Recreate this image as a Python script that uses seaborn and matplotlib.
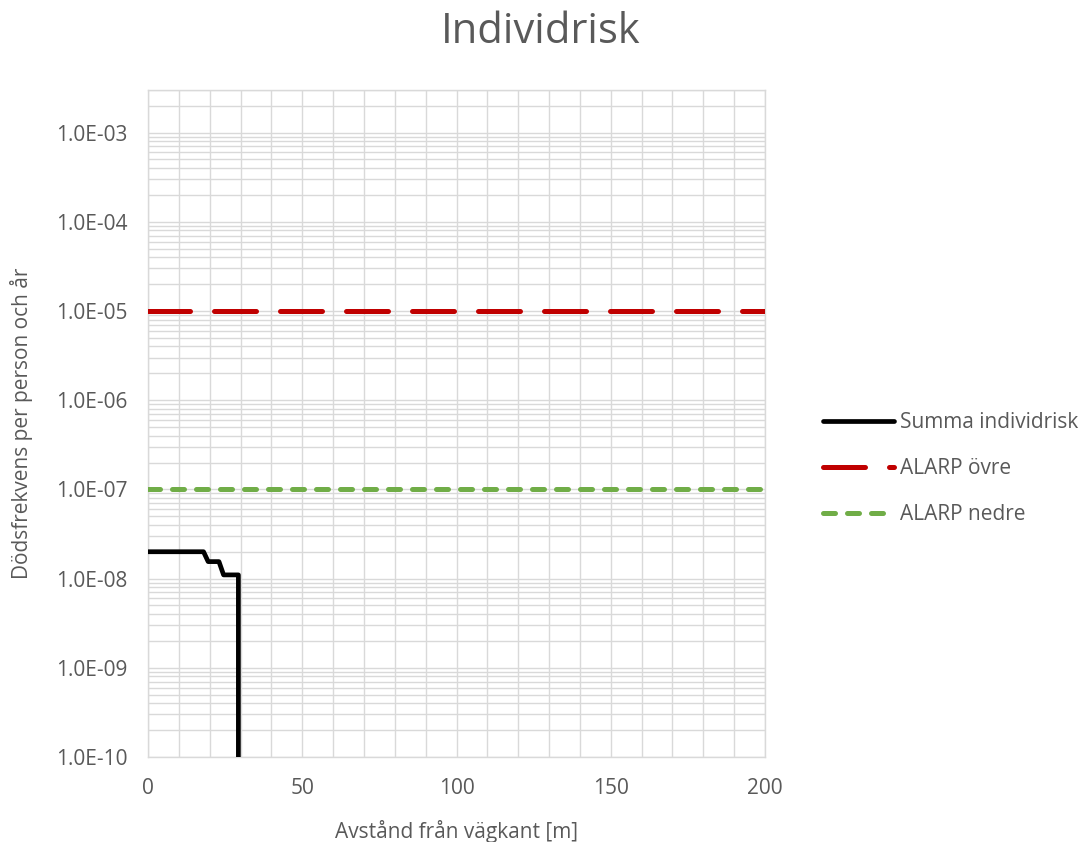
import numpy as np
import pandas as pd
import matplotlib
matplotlib.use("Agg")
from matplotlib import pyplot as plt
from matplotlib.ticker import FixedLocator, MultipleLocator, FuncFormatter
import seaborn as sns

# data
avstand = [0, 18, 19.5, 23, 24.5, 29.3, 29.3]
summa_individrisk = [2.0e-8, 2.0e-8, 1.55e-8, 1.55e-8, 1.1e-8, 1.1e-8, 1e-12]
alarp_x = [0, 200]
alarp_ovre = [1e-5, 1e-5]
alarp_nedre = [1e-7, 1e-7]
ytick_vals = [1e-10, 1e-9, 1e-8, 1e-7, 1e-6, 1e-5, 1e-4, 1e-3]

sns.set_theme(style="white")
plt.rcParams['font.family'] = ['Open Sans', 'DejaVu Sans']
grey_txt = '#595959'
grid_c = '#d9d9d9'

fig = plt.figure(figsize=(10.82, 8.42), dpi=100)
ax = fig.add_axes([148/1082, 1-757/842, (765-148)/1082, (757-90)/842])
ax.set_yscale('log')

sns.lineplot(x=avstand, y=summa_individrisk, ax=ax, color='black', lw=3.4,
             estimator=None, sort=False, label='Summa individrisk', zorder=3)
sns.lineplot(x=alarp_x, y=alarp_ovre, ax=ax, color='#C00000', lw=3.6,
             estimator=None, linestyle=(0, (8.4, 4.8)), dash_capstyle='round',
             label='ALARP övre', zorder=3)
sns.lineplot(x=alarp_x, y=alarp_nedre, ax=ax, color='#70AD47', lw=3.6,
             estimator=None, linestyle=(0, (2.4, 2.4)), dash_capstyle='round',
             label='ALARP nedre', zorder=3)

ax.set_xlim(0, 200)
ax.set_ylim(1e-10, 3e-3)

ax.xaxis.set_major_locator(MultipleLocator(50))
ax.xaxis.set_minor_locator(MultipleLocator(10))
ax.yaxis.set_major_locator(FixedLocator(ytick_vals))
ax.yaxis.set_minor_locator(matplotlib.ticker.LogLocator(base=10, subs=np.arange(2, 10), numticks=20))
ax.yaxis.set_major_formatter(FuncFormatter(lambda v, p: f"{v:.1E}"))
ax.yaxis.set_minor_formatter(matplotlib.ticker.NullFormatter())

ax.grid(True, which='both', axis='both', color=grid_c, lw=1.0, zorder=0)
ax.set_axisbelow(True)
for s in ax.spines.values():
    s.set_color(grid_c)
    s.set_linewidth(1.0)

ax.tick_params(axis='both', which='both', length=0, labelsize=15, labelcolor=grey_txt)
ax.tick_params(axis='y', pad=15)
ax.tick_params(axis='x', pad=15)

ax.set_xlabel('Avstånd från vägkant [m]', fontsize=15, color=grey_txt, labelpad=15)
ax.set_ylabel('Dödsfrekvens per person och år', fontsize=15, color=grey_txt, labelpad=16)
fig.suptitle('Individrisk', fontsize=30, color=grey_txt, x=0.5, y=1-32/842, va='center')

ax.legend(loc='center left', bbox_to_anchor=(823/1082, 1-469/842),
          bbox_transform=fig.transFigure, frameon=False, fontsize=15,
          handlelength=3.4, handletextpad=0.3, labelspacing=1.2,
          borderpad=0, borderaxespad=0, labelcolor=grey_txt)

fig.savefig('out.png', dpi=100)
